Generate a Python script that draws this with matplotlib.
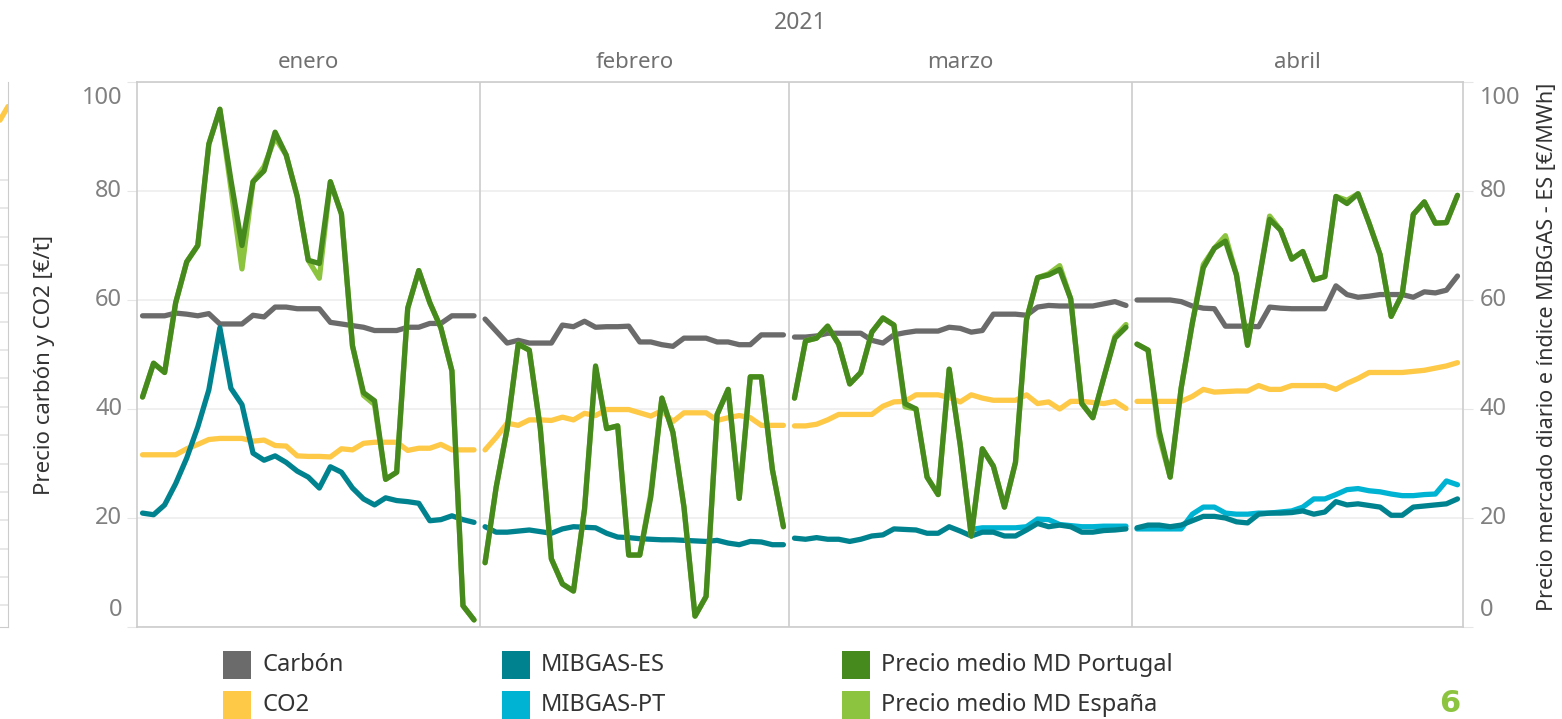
import matplotlib
matplotlib.use("Agg")
import matplotlib.pyplot as plt
from matplotlib.patches import Rectangle
import numpy as np

plt.rcParams['font.family'] = ['Noto Sans', 'DejaVu Sans']

# ---- data (daily values) ----
months = ["enero", "febrero", "marzo", "abril"]
year_label = "2021"
y_ticks = [0, 20, 40, 60, 80, 100]

carbon_ene = [57.1, 57.1, 57.1, 57.6, 57.4, 57.1, 57.5, 55.6, 55.6, 55.6, 57.2, 56.9, 58.7, 58.7, 58.4, 58.4,
              58.4, 55.9, 55.6, 55.3, 55.0, 54.4, 54.4, 54.4, 55.0, 55.0, 55.7, 55.7, 57.1, 57.1, 57.1]
carbon_feb = [56.5, 54.3, 52.1, 52.6, 52.1, 52.1, 52.1, 55.4, 55.1, 56.1, 55.0, 55.1, 55.1, 55.2, 52.3, 52.3,
              51.8, 51.5, 53.0, 53.0, 53.0, 52.3, 52.3, 51.8, 51.8, 53.6, 53.6, 53.6]
carbon_mar = [53.2, 53.2, 53.4, 53.9, 53.9, 53.9, 53.9, 52.6, 52.1, 53.6, 54.0, 54.3, 54.3, 54.3, 55.0, 54.8,
              54.1, 54.4, 57.4, 57.4, 57.4, 57.2, 58.7, 59.0, 58.9, 58.9, 58.9, 58.9, 59.3, 59.7, 59.0]
carbon_abr = [60.0, 60.0, 60.0, 60.0, 59.7, 58.9, 58.5, 58.4, 55.2, 55.2, 55.2, 55.1, 58.7, 58.5, 58.4, 58.4,
              58.4, 58.4, 62.6, 61.0, 60.5, 60.7, 61.0, 61.0, 61.0, 60.5, 61.5, 61.3, 61.8, 64.4]

co2_ene = [31.6, 31.6, 31.6, 31.6, 32.7, 33.5, 34.4, 34.6, 34.6, 34.6, 34.1, 34.3, 33.3, 33.2, 31.4, 31.3,
           31.3, 31.2, 32.7, 32.5, 33.7, 33.9, 33.9, 33.9, 32.4, 32.8, 32.8, 33.5, 32.5, 32.5, 32.5]
co2_feb = [32.5, 34.8, 37.4, 37.0, 38.0, 38.0, 37.9, 38.5, 38.0, 39.2, 38.8, 39.9, 39.9, 39.9, 39.3, 38.7,
           39.7, 37.7, 39.3, 39.3, 39.3, 37.9, 38.4, 38.8, 38.4, 37.0, 37.0, 37.0]
co2_mar = [36.9, 36.9, 37.2, 38.0, 39.0, 39.0, 39.0, 39.0, 40.5, 41.3, 41.4, 42.6, 42.6, 42.6, 42.1, 41.3,
           42.6, 42.0, 41.6, 41.6, 41.6, 42.6, 41.0, 41.3, 40.0, 41.4, 41.4, 41.2, 41.0, 41.4, 40.1]
co2_abr = [41.4, 41.4, 41.4, 41.4, 41.4, 42.3, 43.6, 43.1, 43.2, 43.3, 43.3, 44.3, 43.6, 43.6, 44.3, 44.3,
           44.3, 44.3, 43.6, 44.7, 45.6, 46.7, 46.7, 46.7, 46.7, 46.9, 47.1, 47.5, 47.9, 48.5]

mibgas_es_ene = [20.9, 20.6, 22.4, 26.3, 31.0, 36.7, 43.5, 54.9, 43.8, 40.8, 31.9, 30.6, 31.4, 30.2, 28.6, 27.5,
                 25.5, 29.4, 28.4, 25.5, 23.5, 22.4, 23.7, 23.2, 23.0, 22.7, 19.5, 19.7, 20.4, 19.7, 19.2]
mibgas_es_feb = [18.4, 17.4, 17.4, 17.6, 17.8, 17.5, 17.2, 18.0, 18.4, 18.3, 18.2, 17.2, 16.5, 16.4, 16.2, 16.1,
                 16.0, 16.0, 15.9, 15.8, 15.7, 15.9, 15.4, 15.1, 15.7, 15.6, 15.1, 15.1]
mibgas_es_mar = [16.3, 16.1, 16.4, 16.1, 16.1, 15.7, 16.1, 16.7, 16.9, 18.0, 17.9, 17.8, 17.2, 17.2, 18.4, 17.6,
                 16.7, 17.4, 17.4, 16.7, 16.7, 17.8, 19.0, 18.4, 18.7, 18.4, 17.4, 17.4, 17.7, 17.8, 18.0]
mibgas_es_abr = [18.2, 18.7, 18.7, 18.4, 18.7, 19.5, 20.3, 20.3, 20.0, 19.3, 19.1, 20.7, 20.9, 20.9, 21.0, 21.3,
                 20.7, 21.1, 23.0, 22.4, 22.6, 22.3, 22.0, 20.5, 20.5, 22.0, 22.2, 22.4, 22.6, 23.5]

nan = np.nan
mibgas_pt_ene = [nan] * 31
mibgas_pt_feb = [nan] * 28
mibgas_pt_mar = [nan] * 16 + [17.9, 18.2, 18.2, 18.2, 18.2, 18.4, 19.8, 19.7, 18.8, 18.6, 18.4, 18.4, 18.5, 18.5, 18.5]
mibgas_pt_abr = [18.0, 18.0, 18.0, 18.0, 18.0, 20.7, 22.0, 22.0, 20.9, 20.7, 20.7, 20.9, 20.9, 21.1, 21.3, 22.0,
                 23.5, 23.5, 24.3, 25.2, 25.4, 25.0, 24.8, 24.4, 24.1, 24.1, 24.3, 24.4, 26.8, 26.1]

pt_ene = [42.2, 48.4, 46.7, 59.5, 67.0, 70.0, 88.6, 95.0, 82.0, 70.0, 81.7, 83.7, 90.8, 86.6, 79.0, 67.3,
          66.7, 81.7, 75.8, 51.6, 43.0, 41.5, 27.1, 28.4, 58.5, 65.4, 59.5, 54.9, 47.0, 3.9, 1.3]
pt_feb = [11.8, 25.6, 36.4, 51.9, 50.8, 36.4, 12.5, 7.9, 6.6, 21.6, 47.9, 36.4, 36.9, 13.2, 13.2, 23.9,
          42.0, 35.7, 22.0, 2.0, 5.6, 39.0, 43.6, 23.6, 45.9, 45.9, 28.9, 18.4]
pt_mar = [42.0, 52.5, 53.0, 55.2, 51.9, 44.6, 46.7, 54.1, 56.7, 55.4, 41.0, 40.0, 27.5, 24.3, 47.3, 33.4,
          16.7, 32.7, 29.5, 22.0, 30.2, 56.4, 64.1, 64.6, 65.6, 60.2, 41.0, 38.4, 45.8, 53.0, 55.0]
pt_abr = [51.9, 50.8, 36.0, 27.5, 43.9, 55.7, 65.9, 69.5, 70.8, 64.6, 51.7, 63.3, 74.8, 72.8, 67.5, 68.9,
          63.7, 64.3, 79.0, 77.7, 79.5, 74.1, 68.3, 57.0, 61.1, 75.7, 78.0, 74.1, 74.2, 79.2]

es_ene = [42.2, 48.4, 46.7, 59.5, 67.0, 70.0, 88.6, 95.0, 80.5, 65.7, 81.7, 84.5, 89.8, 86.6, 79.0, 67.3,
          64.0, 81.7, 75.8, 51.6, 42.5, 40.8, 27.1, 28.4, 58.5, 65.4, 59.5, 54.9, 47.0, 3.9, 1.3]
es_feb = [11.8, 25.6, 36.4, 51.9, 50.8, 36.4, 12.5, 7.9, 6.6, 21.6, 47.6, 36.4, 36.9, 13.2, 13.2, 24.5,
          42.0, 35.7, 22.0, 2.0, 5.6, 39.0, 43.6, 23.6, 45.9, 45.9, 28.9, 18.4]
es_mar = [42.0, 52.5, 53.0, 55.2, 51.9, 44.6, 46.7, 54.1, 56.7, 55.4, 40.4, 40.0, 27.5, 24.3, 47.3, 33.4,
          16.7, 32.7, 29.5, 22.0, 30.2, 56.4, 64.1, 64.8, 66.3, 60.2, 41.0, 38.4, 45.8, 53.3, 55.5]
es_abr = [51.9, 50.8, 35.0, 27.5, 43.9, 55.7, 66.5, 69.5, 71.8, 64.6, 51.7, 63.3, 75.4, 72.8, 67.5, 68.9,
          63.7, 64.3, 79.0, 78.3, 79.5, 74.1, 68.3, 57.0, 61.1, 75.7, 78.0, 74.1, 74.2, 79.2]

# stub of the neighbouring (cut) panel on the far left
prev_co2 = [93.0, 95.5]

series = [
    ("Carbón", "#6b6b6b", [carbon_ene, carbon_feb, carbon_mar, carbon_abr]),
    ("CO2", "#fdc946", [co2_ene, co2_feb, co2_mar, co2_abr]),
    ("MIBGAS-PT", "#00b3d2", [mibgas_pt_ene, mibgas_pt_feb, mibgas_pt_mar, mibgas_pt_abr]),
    ("MIBGAS-ES", "#00838f", [mibgas_es_ene, mibgas_es_feb, mibgas_es_mar, mibgas_es_abr]),
    ("Precio medio MD España", "#8cc43f", [es_ene, es_feb, es_mar, es_abr]),
    ("Precio medio MD Portugal", "#468a1e", [pt_ene, pt_feb, pt_mar, pt_abr]),
]
legend_order = ["Carbón", "CO2", "MIBGAS-ES", "MIBGAS-PT", "Precio medio MD Portugal", "Precio medio MD España"]
colors = {name: c for name, c, _ in series}

W, H = 1562, 719
fig = plt.figure(figsize=(W / 100, H / 100), dpi=100)
fig.patch.set_facecolor("white")

border = "#cccccc"
grid_c = "#eeeeee"
tick_c = "#808080"
head_c = "#707070"
title_c = "#333333"

ax = fig.add_axes([137 / W, 1 - 627 / H, (1463 - 137) / W, (627 - 82) / H])

# day offsets of each month along a single x axis
lengths = [len(s) for s in series[0][2]]
offsets = np.concatenate([[0], np.cumsum(lengths)[:-1]])

for z, (name, col, parts) in enumerate(series):
    for off, vals in zip(offsets, parts):
        x = off + np.arange(len(vals))
        ax.plot(x, vals, color=col, lw=3.8, solid_capstyle="round",
                solid_joinstyle="round", zorder=3 + z)

ax.set_xlim(-0.5, sum(lengths) - 0.5)
ax.set_ylim(0, 100)
ax.set_xticks([])
ax.set_yticks(y_ticks)
ax.grid(axis="y", color=grid_c, lw=1.2, zorder=0)
for s in ax.spines.values():
    s.set_color(border)
    s.set_linewidth(1.2)
ax.tick_params(axis="y", length=7, color="#e6e6e6", left=True, right=True,
               labelleft=False, labelright=False)

for b in offsets[1:]:
    ax.axvline(b - 0.5, color=border, lw=1.2, zorder=2)

# tick labels on both sides (end labels kept inside the axis, as in the reference)
for v in y_ticks:
    dy = -16 if v == 100 else (17 if v == 0 else 0)
    ax.annotate(str(v), xy=(0, v), xycoords=ax.get_yaxis_transform(), xytext=(-15, dy),
                textcoords="offset pixels", ha="right", va="center", fontsize=17, color=tick_c)
    ax.annotate(str(v), xy=(1, v), xycoords=ax.get_yaxis_transform(), xytext=(17, dy),
                textcoords="offset pixels", ha="left", va="center", fontsize=17, color=tick_c)

# headers
for off, n, name in zip(offsets, lengths, months):
    ax.text(off + (n - 1) / 2, 1.035, name, transform=ax.get_xaxis_transform(),
            ha="center", va="center", fontsize=16, color=head_c)
fig.text(800 / W, 1 - 23 / H, year_label, ha="center", va="center", fontsize=16.5, color=head_c)

fig.text(45 / W, 1 - 365 / H, "Precio carbón y CO2 [€/t]", rotation=90,
         ha="center", va="center", fontsize=16, color=title_c)
fig.text(1548 / W, 1 - 347 / H, "Precio mercado diario e índice MIBGAS - ES [€/MWh]", rotation=90,
         ha="center", va="center", fontsize=15.5, color=title_c)

# partial neighbouring panel on the far left edge
axp = fig.add_axes([0, 1 - 627 / H, 8 / W, (627 - 82) / H])
axp.set_xlim(0, 1)
axp.set_ylim(0, 100)
axp.plot([0, 1], prev_co2, color=colors["CO2"], lw=3.8, solid_capstyle="round")
axp.set_xticks([])
axp.set_yticks(np.arange(4, 86, 5.2))
axp.grid(axis="y", color="#e4e4e4", lw=1.2)
axp.tick_params(left=False, labelleft=False)
for k, s in axp.spines.items():
    s.set_visible(k in ("right", "bottom"))
    s.set_color(border)

# legend
col_x = [223, 502, 842]
row_y = [665, 705]
for i, name in enumerate(legend_order):
    cx = col_x[i // 2]
    cy = row_y[i % 2]
    fig.add_artist(Rectangle((cx / W, 1 - (cy + 14) / H), 28 / W, 28 / H,
                             transform=fig.transFigure, color=colors[name], lw=0))
    fig.text((cx + 39) / W, 1 - cy / H, name, ha="left", va="center", fontsize=17, color=title_c)

fig.text(1450 / W, 1 - 718 / H, "6", ha="center", va="bottom", fontsize=22, fontweight="bold",
         color="#8cc43f", family=["DejaVu Sans"])

fig.savefig("out.png", dpi=100)
